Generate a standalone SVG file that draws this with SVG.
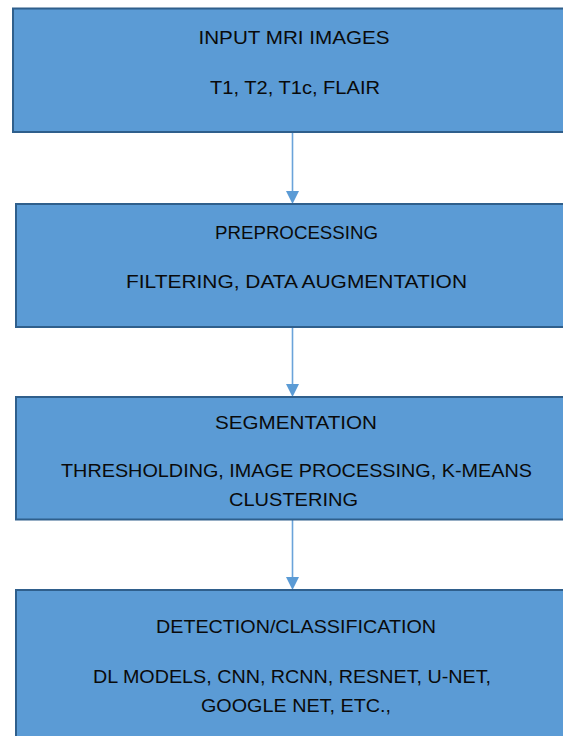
<svg xmlns="http://www.w3.org/2000/svg" width="563" height="736" viewBox="0 0 563 736">
<style>
.box{fill:#5b9bd5;stroke:#2f5f8c;stroke-width:2}
.t{font-family:"Liberation Sans",Arial,sans-serif;font-size:19px;fill:#0a0a0a;text-anchor:middle}
.c{stroke:#6aa3da;stroke-width:1.6;fill:none}
.h{fill:#5b9bd5}
</style>
<rect width="563" height="736" fill="#ffffff"/>
<g id="connectors">
<line class="c" x1="292.5" y1="133" x2="292.5" y2="193"/>
<polygon class="h" points="286,191 299,191 292.5,204"/>
<line class="c" x1="292.5" y1="328" x2="292.5" y2="386"/>
<polygon class="h" points="286,384 299,384 292.5,397"/>
<line class="c" x1="292.5" y1="520" x2="292.5" y2="579"/>
<polygon class="h" points="286,577 299,577 292.5,590"/>
</g>
<g id="node-input">
<rect class="box" x="13" y="8.5" width="560" height="123.5"/>
<text class="t" x="294" y="44" textLength="191" lengthAdjust="spacingAndGlyphs">INPUT MRI IMAGES</text>
<text class="t" x="295" y="94" textLength="170" lengthAdjust="spacingAndGlyphs">T1, T2, T1c, FLAIR</text>
</g>
<g id="node-preprocessing">
<rect class="box" x="16" y="204" width="560" height="123"/>
<text class="t" x="296.5" y="239" textLength="163" lengthAdjust="spacingAndGlyphs">PREPROCESSING</text>
<text class="t" x="296.5" y="288" textLength="341" lengthAdjust="spacingAndGlyphs">FILTERING, DATA AUGMENTATION</text>
</g>
<g id="node-segmentation">
<rect class="box" x="16" y="397" width="560" height="122.5"/>
<text class="t" x="296" y="429" textLength="162" lengthAdjust="spacingAndGlyphs">SEGMENTATION</text>
<text class="t" x="296.5" y="477" textLength="471" lengthAdjust="spacingAndGlyphs">THRESHOLDING, IMAGE PROCESSING, K-MEANS</text>
<text class="t" x="293.5" y="506" textLength="129" lengthAdjust="spacingAndGlyphs">CLUSTERING</text>
</g>
<g id="node-detection">
<rect class="box" x="16" y="590" width="560" height="160"/>
<text class="t" x="296" y="633" textLength="280" lengthAdjust="spacingAndGlyphs">DETECTION/CLASSIFICATION</text>
<text class="t" x="292" y="683" textLength="398" lengthAdjust="spacingAndGlyphs">DL MODELS, CNN, RCNN, RESNET, U-NET,</text>
<text class="t" x="296" y="712" textLength="190" lengthAdjust="spacingAndGlyphs">GOOGLE NET, ETC.,</text>
</g>
</svg>
